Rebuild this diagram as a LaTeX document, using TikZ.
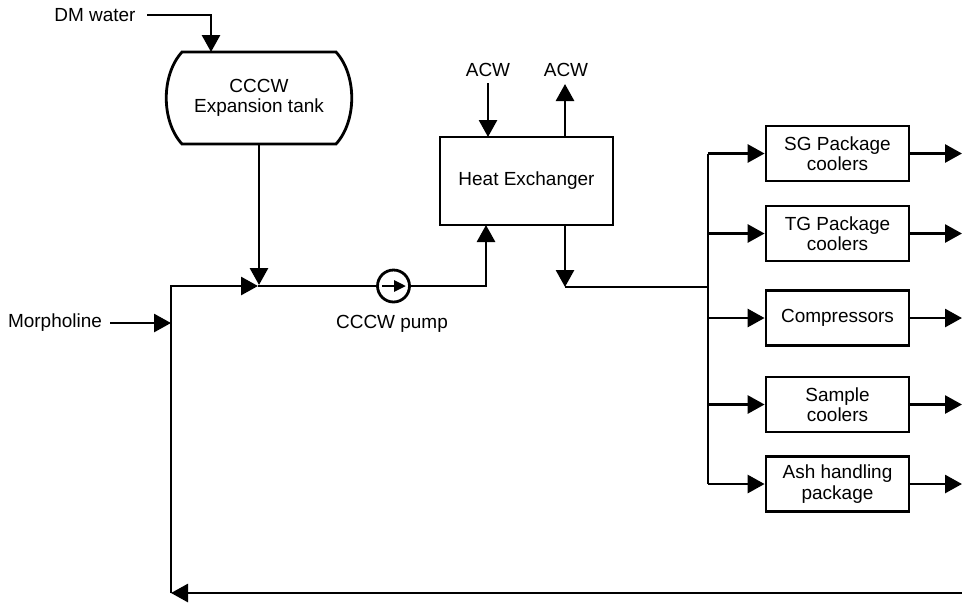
\documentclass[tikz,border=0pt]{standalone}
\usepackage{fontspec}
\setmainfont{Liberation Sans}
\usetikzlibrary{arrows.meta}
\begin{document}
\begin{tikzpicture}[x=0.02cm,y=-0.02cm,
  line width=1.6pt,
  txt/.style={font=\fontsize{10.8}{11.5}\selectfont, align=center, inner sep=0pt},
  box/.style={draw, font=\fontsize{10.8}{11.5}\selectfont, align=center, inner sep=0pt, minimum width=2.86cm, minimum height=1.1cm},
  arr/.style={-{Triangle[length=3.4mm,width=3.6mm]}},
  parr/.style={-{Triangle[length=2.4mm,width=2.2mm]}}]
\useasboundingbox (0,0) rectangle (962,603);

% DM water and tank
\node[txt] (dm) at (95,15) {DM water};
\coordinate (dmstart) at (147,15);
\coordinate (tanktop) at (211,52);
\draw (182,52) -- (336,52) .. controls (357,75) and (357,121) .. (336,144)
      -- (182,144) .. controls (161,121) and (161,75) .. (182,52) -- cycle;
\node[txt] (tank) at (259,98) {CCCW\\Expansion tank};
\coordinate (tankbot) at (259,144);
\draw[arr] (dmstart) -| (tanktop);

% main loop
\coordinate (j1) at (258,286);
\coordinate (c1) at (171,286);
\coordinate (c2) at (171,593);
\coordinate (mo) at (171,323);
\coordinate (ret) at (962,593);
\draw[arr] (tankbot) -- (259,285);
\draw[arr] (c2) -- (c1) -- (j1);
\draw[arr] (ret) -- (c2);

\node[txt] (morph) at (55,323) {Morpholine};
\coordinate (mostart) at (110,323);
\draw[arr] (mostart) -- (mo);

% pump
\node[draw, circle, minimum size=0.64cm, inner sep=0pt] (pump) at (393.5,286) {};
\coordinate (pa) at (382,286);
\coordinate (pb) at (406,286);
\draw[parr] (pa) -- (pb);
\node[txt] (pumpl) at (392,324) {CCCW pump};
\draw (j1) -- (pump.west);

% heat exchanger
\node[box, minimum width=3.46cm, minimum height=1.76cm] (hx) at (526.5,181) {Heat Exchanger};
\coordinate (hxin) at (486,225);
\coordinate (hxout) at (565,225);
\draw[arr] (pump.east) -| (hxin);
\node[txt] (acw1) at (488,70) {ACW};
\node[txt] (acw2) at (566,70) {ACW};
\coordinate (acwa) at (488,83);
\coordinate (acwb) at (488,137);
\coordinate (acwc) at (565,137);
\coordinate (acwd) at (565,84);
\draw[arr] (acwa) -- (acwb);
\draw[arr] (acwc) -- (acwd);
\coordinate (hxd) at (565,287);
\coordinate (b1) at (708,287);
\draw[arr] (hxout) -- (hxd);
\draw (hxd) -- (b1);

% consumers
\node[box] (sg) at (837.5,153.5) {SG Package\\coolers};
\node[box] (tg) at (837.5,233.5) {TG Package\\coolers};
\node[box] (cp) at (837.5,318) {Compressors};
\node[box] (sc) at (837.5,404.5) {Sample\\coolers};
\node[box] (ah) at (837.5,484) {Ash handling\\package};
\coordinate (edge) at (962,0);
\draw (sg.west -| b1) -- (ah.west -| b1);
\foreach \n in {sg,tg,cp,sc,ah}{
  \draw[arr] (\n.west -| b1) -- (\n.west);
  \draw[arr] (\n.east) -- (\n.east -| edge);
}
\end{tikzpicture}
\end{document}
